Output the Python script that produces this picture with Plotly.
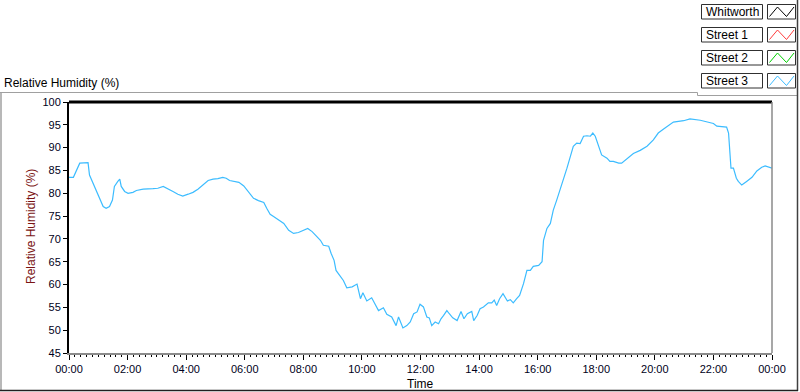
import plotly.graph_objects as go

# ---------------- data ----------------
series_names = ["Whitworth", "Street 1", "Street 2", "Street 3"]
series_colors = ["#000000", "#ff3b3b", "#00d000", "#3cbcff"]

# Street 3 : time in minutes after midnight, relative humidity (%)
street3_minutes = [
    0, 9, 22, 39, 42, 49, 56, 63, 70, 76, 83, 89, 93, 100, 104, 107, 114, 121, 131, 138,
    152, 172, 182, 193, 206, 213, 223, 233, 244, 254, 264, 274, 285, 295, 305, 315, 322, 329, 339, 348,
    358, 365, 371, 378, 388, 399, 405, 412, 419, 429, 440, 450, 460, 470, 480, 489, 498, 506, 515, 521,
    532, 537, 543, 547, 556, 562, 569, 580, 590, 597, 602, 610, 620, 627, 634, 644, 651, 661, 670, 675,
    684, 692, 699, 706, 713, 719, 726, 733, 738, 743, 750, 757, 762, 767, 774, 779, 786, 795, 803, 809,
    816, 825, 829, 836, 842, 849, 859, 866, 871, 876, 882, 889, 893, 898, 904, 910, 917, 923, 931, 938,
    945, 951, 962, 969, 972, 979, 986, 992, 999, 1006, 1013, 1020, 1027, 1033, 1040, 1047, 1054, 1061, 1068, 1073,
    1078, 1085, 1091, 1102, 1108, 1115, 1126, 1132, 1143, 1156, 1170, 1184, 1197, 1207, 1218, 1238, 1259, 1272, 1293, 1310,
    1320, 1327, 1347, 1351, 1353, 1356, 1361, 1367, 1371, 1378, 1388, 1399, 1409, 1419, 1426, 1433, 1440,
]
street3_rh = [
    83.5, 83.5, 86.6, 86.7, 84.0, 82.2, 80.4, 78.9, 77.1, 76.7, 77.1, 78.5, 81.5, 82.6, 83.1, 81.5, 80.4, 80.0, 80.2, 80.6,
    80.9, 81.0, 81.1, 81.5, 80.9, 80.4, 79.8, 79.4, 79.8, 80.2, 80.9, 81.8, 82.8, 83.1, 83.2, 83.5, 83.3, 82.8, 82.5, 82.4,
    81.6, 80.6, 79.9, 78.9, 78.4, 78.0, 76.7, 75.4, 74.9, 74.1, 73.4, 71.9, 71.2, 71.4, 71.9, 72.3, 71.6, 70.6, 69.7, 68.6,
    68.4, 66.8, 65.3, 63.1, 61.7, 60.9, 59.3, 59.5, 60.1, 56.9, 58.2, 56.4, 57.1, 55.8, 54.3, 54.9, 53.5, 52.9, 51.0, 52.9,
    50.5, 51.0, 51.8, 53.6, 54.0, 55.7, 55.1, 52.9, 52.7, 51.0, 51.8, 51.4, 52.5, 53.2, 54.3, 53.6, 52.7, 52.1, 54.1, 52.5,
    53.6, 54.1, 52.1, 53.2, 54.7, 55.1, 56.0, 56.0, 56.6, 55.4, 56.9, 58.0, 57.3, 56.4, 56.7, 56.0, 56.9, 57.6, 60.2, 63.1,
    63.1, 64.0, 64.2, 65.0, 69.7, 72.3, 73.4, 76.3, 78.5, 80.7, 83.3, 85.5, 88.1, 90.3, 91.0, 90.9, 92.5, 92.6, 92.5, 93.2,
    92.5, 90.3, 88.4, 87.7, 87.0, 87.0, 86.6, 86.6, 87.6, 88.7, 89.4, 90.3, 91.7, 93.2, 94.1, 95.6, 95.9, 96.3, 96.0, 95.6,
    95.3, 94.7, 94.5, 93.2, 88.8, 85.5, 85.5, 83.3, 82.6, 81.8, 82.6, 83.5, 84.9, 85.7, 86.0, 85.7, 85.5,
]

x_tick_minutes = [0, 120, 240, 360, 480, 600, 720, 840, 960, 1080, 1200, 1320, 1440]
x_tick_labels = ["00:00", "02:00", "04:00", "06:00", "08:00", "10:00", "12:00",
                 "14:00", "16:00", "18:00", "20:00", "22:00", "00:00"]
y_range = [45, 100]

chart_label = "Relative Humidity (%)"
y_title = "Relative Humidity (%)"
x_title = "Time"

# ---------------- layout geometry ----------------
W, H = 800, 392
ML, MR, MT, MB = 69, 28, 102, 39
PW, PH = W - ML - MR, H - MT - MB
FONT = "Liberation Sans, Arial, sans-serif"


def px(xp):
    return (xp - ML) / PW


def py(yp):
    return (H - MB - yp) / PH


fig = go.Figure()
fig.add_trace(go.Scatter(
    x=street3_minutes, y=street3_rh, mode="lines",
    line=dict(color=series_colors[3], width=1.2),
    name=series_names[3], showlegend=False, hoverinfo="skip",
))

shapes = []
annotations = []

# plot-area frame: thick black top, gray right
shapes.append(dict(type="line", xref="paper", yref="paper", x0=0, x1=1, y0=1, y1=1,
                   line=dict(color="black", width=3)))
shapes.append(dict(type="line", xref="paper", yref="paper", x0=1, x1=1, y0=0, y1=1,
                   line=dict(color="#8a8a8a", width=1.5)))


def seg(x0, y0, x1, y1, color, width=1):
    shapes.append(dict(type="line", xref="paper", yref="paper",
                       x0=px(x0), y0=py(y0), x1=px(x1), y1=py(y1),
                       line=dict(color=color, width=width)))


# outer control frame
seg(0, 92.5, 697.5, 92.5, "#a0a0a0")
seg(697.5, 92.5, 697.5, 95.5, "#a0a0a0")
seg(697.5, 95.5, 797.5, 95.5, "#a0a0a0")
seg(1, 92.5, 1, 391, "#a0a0a0", 1.5)
seg(797.5, 0, 797.5, 391, "#404040", 1.5)
seg(0, 390.5, 798, 390.5, "#202020", 1.5)

# custom legend boxes
for i, (name, col) in enumerate(zip(series_names, series_colors)):
    top = 4.5 + i * 23
    bot = top + 14.5
    shapes.append(dict(type="rect", xref="paper", yref="paper",
                       x0=px(701.5), x1=px(762.5), y0=py(bot), y1=py(top),
                       line=dict(color="#303030", width=1), fillcolor="white"))
    shapes.append(dict(type="rect", xref="paper", yref="paper",
                       x0=px(767.5), x1=px(795.5), y0=py(bot), y1=py(top),
                       line=dict(color="#303030", width=1), fillcolor="white"))
    zx = [769.5, 777.5, 786.5, 794.0]
    zy = [bot - 2.5, top + 2.5, bot - 2.5, top + 2.5]
    path = "M {} {}".format(px(zx[0]), py(zy[0])) + "".join(
        " L {} {}".format(px(a), py(b)) for a, b in zip(zx[1:], zy[1:]))
    shapes.append(dict(type="path", xref="paper", yref="paper", path=path,
                       line=dict(color=col, width=1)))
    annotations.append(dict(text=name, xref="paper", yref="paper",
                            x=px(704), y=py((top + bot) / 2), xanchor="left", yanchor="middle",
                            showarrow=False, font=dict(family=FONT, size=12, color="black")))

# chart label
annotations.append(dict(text=chart_label, xref="paper", yref="paper", x=px(2), y=py(82.5),
                        xanchor="left", yanchor="middle", showarrow=False,
                        font=dict(family=FONT, size=12, color="black")))
# axis titles
annotations.append(dict(text=y_title, xref="paper", yref="paper", x=px(31), y=py(227),
                        xanchor="center", yanchor="middle", textangle=-90, showarrow=False,
                        font=dict(family=FONT, size=12, color="#7a1414")))
annotations.append(dict(text=x_title, xref="paper", yref="paper", x=0.5, y=py(383.5),
                        xanchor="center", yanchor="middle", showarrow=False,
                        font=dict(family=FONT, size=12, color="black")))

fig.update_layout(
    width=W, height=H,
    margin=dict(l=ML, r=MR, t=MT, b=MB, pad=0),
    paper_bgcolor="white", plot_bgcolor="white",
    showlegend=False,
    shapes=shapes, annotations=annotations,
    xaxis=dict(
        range=[0, 1440], tickmode="array", tickvals=x_tick_minutes, ticktext=x_tick_labels,
        showgrid=False, zeroline=False,
        showline=True, linecolor="#8a8a8a", linewidth=1.5,
        ticks="outside", ticklen=5, tickwidth=1, tickcolor="black",
        tickfont=dict(family=FONT, size=11, color="#000020"),
        minor=dict(dtick=12, tick0=0, ticks="outside", ticklen=2, tickwidth=1, tickcolor="black",
                   showgrid=False),
        fixedrange=True,
    ),
    yaxis=dict(
        range=y_range, dtick=5, tick0=45,
        showgrid=False, zeroline=False,
        showline=True, linecolor="black", linewidth=2,
        ticks="outside", ticklen=4, tickwidth=1, tickcolor="black",
        tickfont=dict(family=FONT, size=11, color="#000020"),
        fixedrange=True,
    ),
)

fig.write_html(
    "out.html",
    config={"displayModeBar": False},
    post_script="document.body.style.margin='0';document.body.style.overflow='hidden';",
)
